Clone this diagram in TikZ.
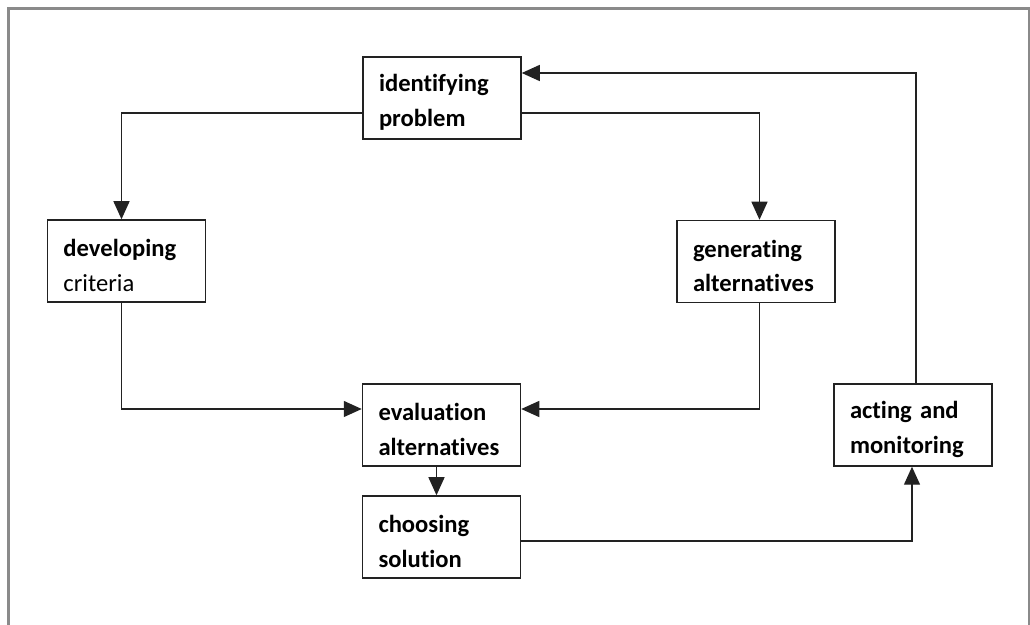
\documentclass[tikz,border=0pt]{standalone}
\usepackage{fontspec}
\setmainfont[Ligatures={NoCommon,NoRare}]{Carlito}
\usepackage{tikz}
\usetikzlibrary{arrows.meta,positioning,calc}
\definecolor{Frame}{HTML}{8A8A8A}
\definecolor{Ink}{HTML}{222222}

\begin{document}
\begin{tikzpicture}[
  stage/.style={draw=Ink,line width=0.85pt,fill=white,minimum width=3.16cm,minimum height=1.64cm,text width=2.52cm,inner xsep=0.32cm,align=left,font=\fontsize{14}{19.5}\selectfont\bfseries,execute at begin node={\rule{0pt}{0.52cm}}},
  arrow/.style={-{Triangle[length=0.36cm,width=0.32cm]},line width=0.75pt,draw=Ink}
]
\useasboundingbox (0,0) rectangle (20.6,12.5);
\draw[Frame,line width=1.7pt] (0.17,0) -- (0.17,12.33) -- (20.58,12.33) -- (20.58,0);
\node[stage] (idp) at (8.84,10.54) {identifying\\problem};
\node[stage] (dev) at (2.53,7.28) {developing\\\mdseries criteria};
\node[stage] (gen) at (15.12,7.27) {generating\\alternatives};
\node[stage] (eva) at (8.83,4.0) {evaluation\\alternatives};
\node[stage] (cho) at (8.83,1.76) {choosing\\solution};
\node[stage] (act) at (18.26,4.0) {acting and\\monitoring};
\draw[arrow] ([yshift=-0.3cm]idp.west) -| ([xshift=-0.1cm]dev.north);
\draw[arrow] ([yshift=-0.3cm]idp.east) -| ([xshift=0.07cm]gen.north);
\draw[arrow] ([xshift=-0.1cm]dev.south) |- ([yshift=0.32cm]eva.west);
\draw[arrow] ([xshift=0.07cm]gen.south) |- ([yshift=0.32cm]eva.east);
\draw[arrow] ([xshift=-0.1cm]eva.south) -- ([xshift=-0.1cm]cho.north);
\draw[arrow] ([yshift=-0.08cm]cho.east) -| ([xshift=-0.02cm]act.south);
\draw[arrow] ([xshift=0.06cm]act.north) |- ([yshift=0.5cm]idp.east);
\end{tikzpicture}
\end{document}
